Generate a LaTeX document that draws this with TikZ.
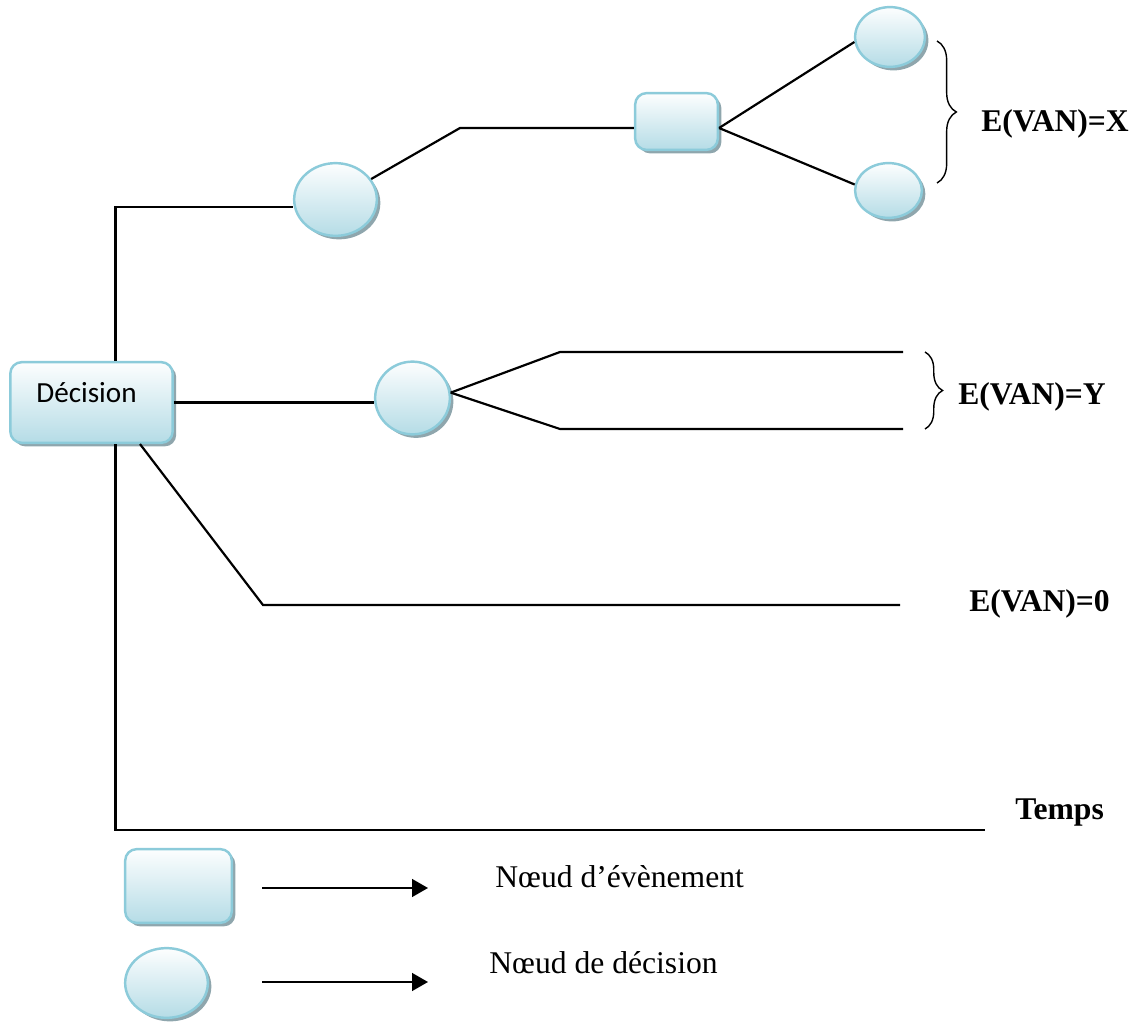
\documentclass[tikz,border=0pt]{standalone}
\usepackage{fontspec}
\setmainfont{Liberation Serif}
\newfontfamily\carlito{Carlito}
\usetikzlibrary{shapes.geometric,shadows,decorations.pathreplacing,arrows.meta,calc}
\definecolor{nodeborder}{RGB}{140,203,218}
\definecolor{nodefill}{RGB}{181,220,230}
\definecolor{shadowc}{RGB}{143,166,173}
\def\px{0.567pt}
\tikzset{
  base/.style={line width=1.4pt, draw=nodeborder, top color=white!97!nodefill, bottom color=nodefill, inner sep=0pt,
    drop shadow={shadow xshift=2pt, shadow yshift=-2pt, fill=shadowc, opacity=1}},
  decnode/.style={base, ellipse},
  evtnode/.style={base, rectangle, rounded corners=6.5pt},
  conn/.style={line width=1.25pt, black},
  bracex/.style={decorate, line width=0.8pt, decoration={brace, amplitude=#1}},
  boldtxt/.style={font=\fontsize{18}{20}\selectfont\bfseries, anchor=base west, inner sep=0pt},
  legtxt/.style={font=\fontsize{18}{21}\selectfont, anchor=base west, inner sep=0pt},
  legarrow/.style={line width=1.25pt, -{Triangle[length=9pt, width=10pt]}}
}
\begin{document}
\begin{tikzpicture}[x=0.02cm, y=-0.02cm]
\useasboundingbox (0,0) rectangle (1137,1023);

% nodes
\node[evtnode, minimum width=163*\px, minimum height=81*\px] (dec) at (91.5,402.5) {};
\node[font=\carlito\fontsize{16.6}{19}\selectfont, anchor=base west, inner sep=0pt] (dectxt) at (36,403) {Décision};
\node[decnode, minimum width=83*\px, minimum height=73*\px] (e1) at (335.5,199.5) {};
\node[evtnode, minimum width=83*\px, minimum height=57*\px] (r2) at (676.5,121.5) {};
\node[decnode, minimum width=70*\px, minimum height=60*\px] (ue) at (890,37) {};
\node[decnode, minimum width=67*\px, minimum height=55*\px] (le) at (888.5,190.5) {};
\node[decnode, minimum width=75*\px, minimum height=73*\px] (e2) at (412.5,398) {};

% coordinates
\coordinate (topc) at (115.5,207);
\coordinate (a1) at (460,128);
\coordinate (b1) at (560,352);
\coordinate (b1e) at (903,352);
\coordinate (b2) at (560,429);
\coordinate (b2e) at (903,429);
\coordinate (d1) at (263,605);
\coordinate (d1e) at (900,605);
\coordinate (ax0) at (115.5,830);
\coordinate (ax1) at (985,830);

% connectors
\draw[conn] ($(dec.north)+(24,0)$) -- (topc) -- (e1.west |- topc);
\draw[conn] (e1) -- (a1) -- (r2.west |- a1);
\draw[conn] (r2.east |- a1) -- (ue.188);
\draw[conn] (r2.east |- a1) -- (le.170);
\draw[conn] (dec.east) -- (dec.east -| e2.west);
\draw[conn] (e2.8) -- (b1) -- (b1e);
\draw[conn] (e2.8) -- (b2) -- (b2e);
\draw[conn] ($(dec.south)+(48.5,0)$) -- (d1) -- (d1e);
\draw[conn] ($(dec.south)+(24,0)$) -- (ax0) -- (ax1);

% braces
\draw[bracex=11pt] (937,41) -- (937,183);
\draw[bracex=10pt] (925,352) -- (925,429);

% labels
\node[boldtxt] (tx) at (981,132) {E(VAN)=X};
\node[boldtxt] (ty) at (958,405) {E(VAN)=Y};
\node[boldtxt] (t0) at (969,612) {E(VAN)=0};
\node[boldtxt] (tt) at (1015,820) {Temps};

% legend
\node[evtnode, minimum width=107*\px, minimum height=74*\px] (lr) at (178.5,886) {};
\node[decnode, minimum width=83*\px, minimum height=70*\px] (lc) at (166.5,983) {};
\coordinate (la0) at (262,888);
\coordinate (la1) at (428,888);
\coordinate (lb0) at (262,982);
\coordinate (lb1) at (428,982);
\draw[legarrow] (la0) -- (la1);
\draw[legarrow] (lb0) -- (lb1);
\node[legtxt] (l1) at (495,888) {Nœud d’évènement};
\node[legtxt] (l2) at (489,973) {Nœud de décision};
\end{tikzpicture}
\end{document}
